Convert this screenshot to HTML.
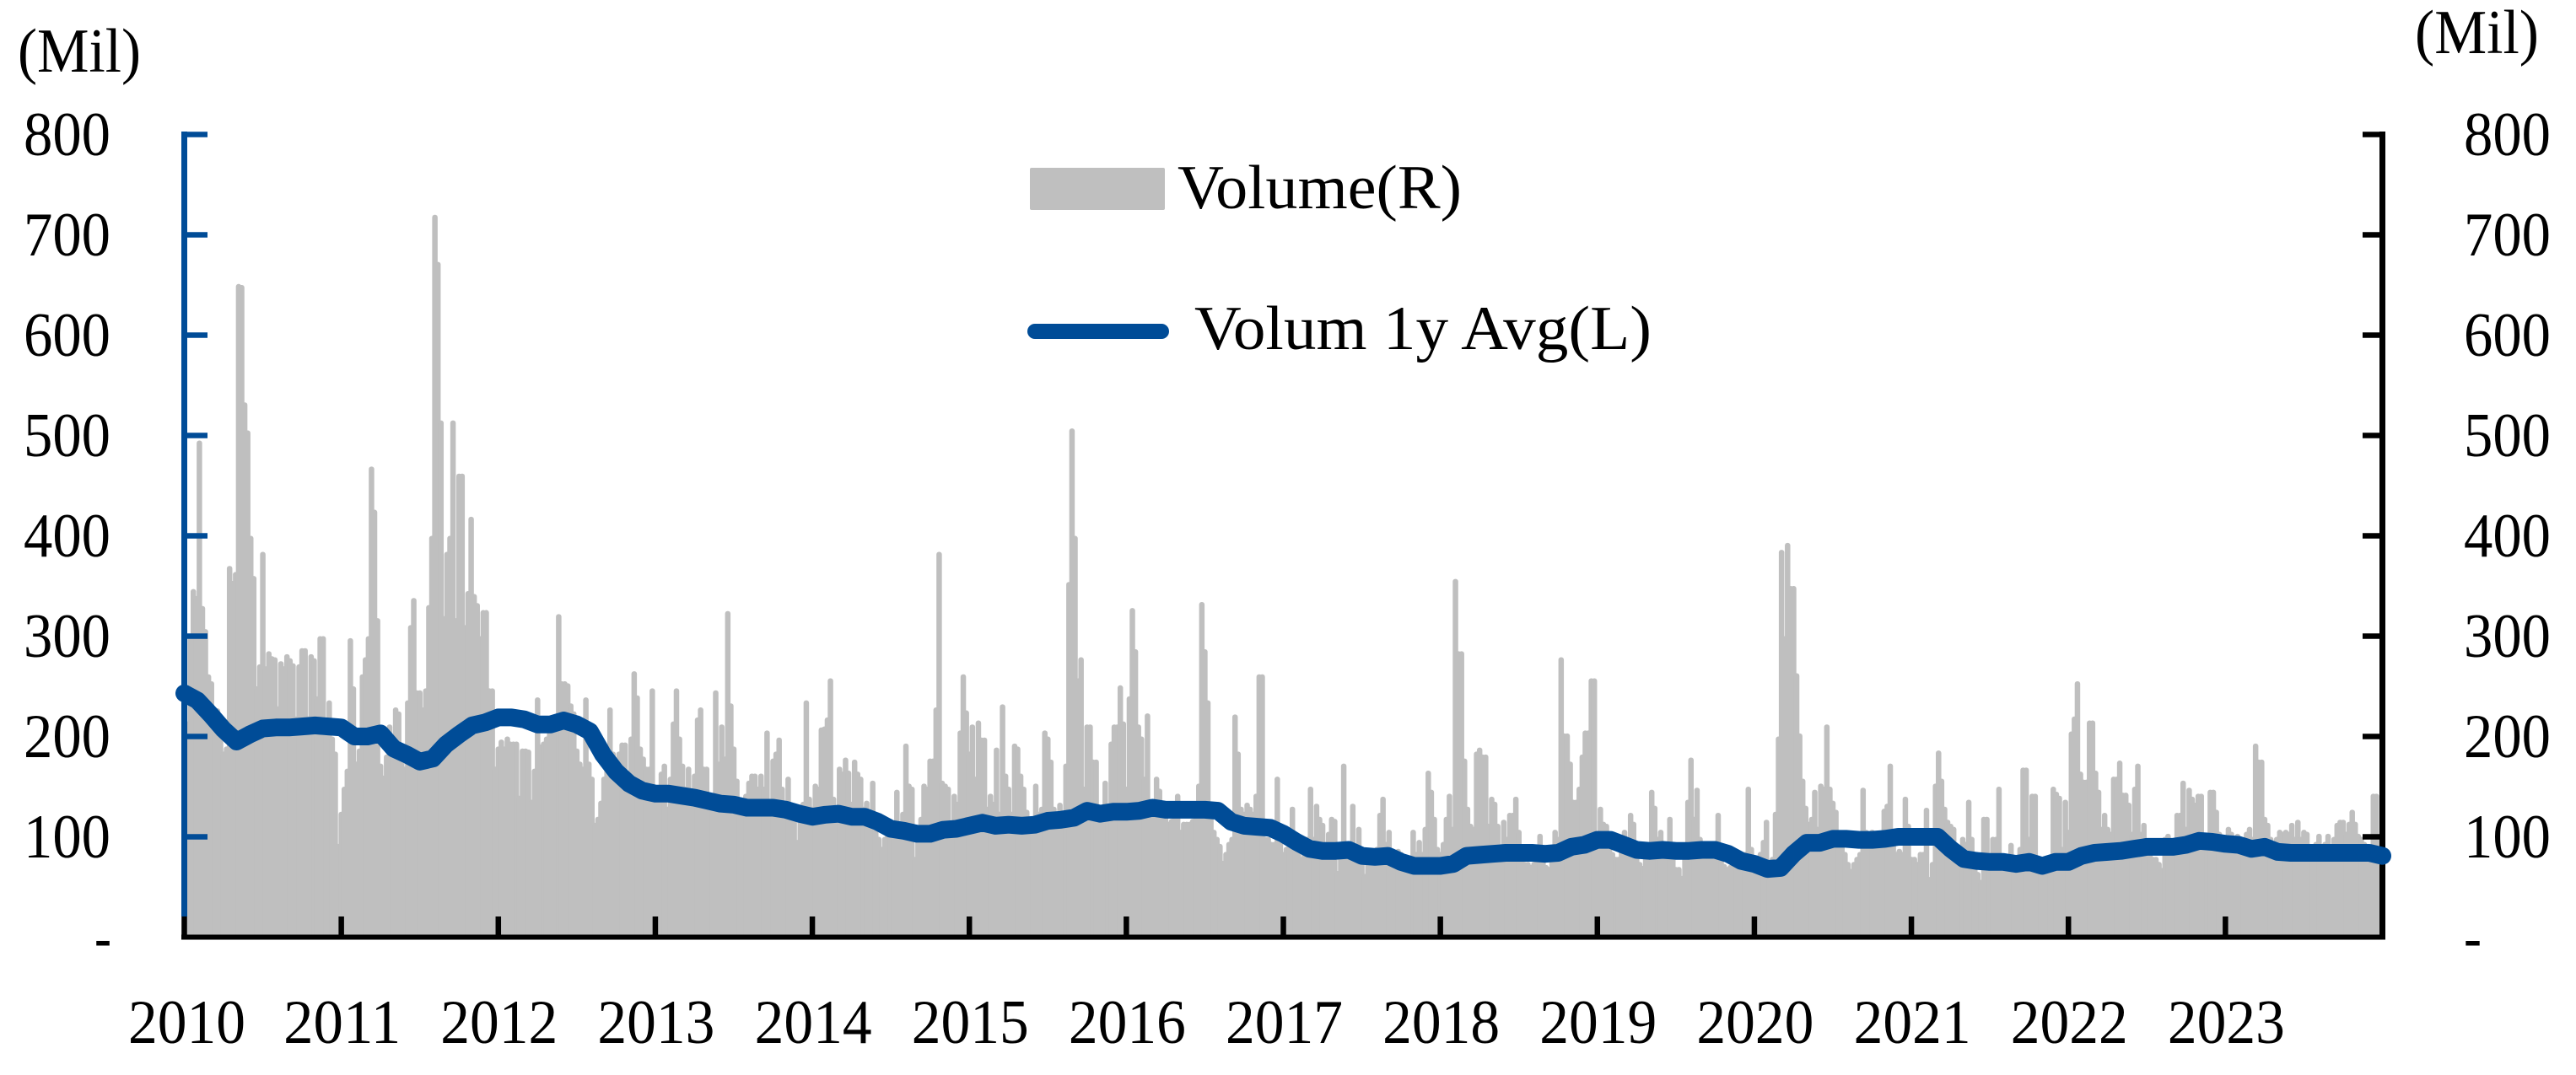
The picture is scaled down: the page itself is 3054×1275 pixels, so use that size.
<!DOCTYPE html>
<html>
<head>
<meta charset="utf-8">
<title>Volume chart</title>
<style>
html,body{margin:0;padding:0;background:#fff;width:3054px;height:1275px;overflow:hidden}
svg{display:block}
text{font-family:"Liberation Serif",serif;font-size:74px;fill:#000}
</style>
</head>
<body>
<svg id="chart" xmlns="http://www.w3.org/2000/svg" width="3054" height="1275" viewBox="0 0 3054 1275">
  <rect x="0" y="0" width="3054" height="1275" fill="#fff"/>
  <g id="bars"></g>
  <g id="axes"></g>
  <path id="avg" fill="none" stroke="#004C97" stroke-width="21" stroke-linejoin="round" stroke-linecap="round"/>
  <g id="labels"></g>
  <text x="21" y="85" textLength="146" lengthAdjust="spacingAndGlyphs">(Mil)</text>
  <text x="2863" y="63" textLength="147" lengthAdjust="spacingAndGlyphs">(Mil)</text>
  <g>
    <rect x="1221" y="199" width="160" height="50" rx="2" fill="#BFBFBF"/>
    <text x="1396" y="247" textLength="337" lengthAdjust="spacingAndGlyphs">Volume(R)</text>
    <line x1="1227" y1="393" x2="1377" y2="393" stroke="#004C97" stroke-width="18" stroke-linecap="round"/>
    <text x="1416" y="414" textLength="542" lengthAdjust="spacingAndGlyphs">Volum 1y Avg(L)</text>
  </g>
</svg>
<script>
const yearLabels = ["2010","2011","2012","2013","2014","2015","2016","2017","2018","2019","2020","2021","2022","2023"];
const yTickValues = [0,100,200,300,400,500,600,700,800];
const yTickLabels = ["-","100","200","300","400","500","600","700","800"];
// Weekly volume (right axis, millions), 52 readings per year
const volume = [
/*2010*/ 210,215,300,347,340,495,330,307,262,255,225,228,215,185,190,370,355,364,651,650,533,505,400,360,250,272,384,270,285,280,279,230,275,270,282,278,273,220,272,288,288,220,282,278,240,300,300,215,236,200,185,93,
/*2011*/ 125,150,168,298,250,175,188,262,279,300,469,426,318,173,161,182,212,182,229,225,180,170,236,311,338,246,246,229,248,331,400,720,673,515,320,384,400,515,318,462,462,311,345,419,342,333,300,326,326,248,248,170,
/*2012*/ 190,197,190,200,195,195,195,141,188,188,187,137,168,239,192,195,200,205,212,210,322,255,255,253,233,225,188,175,170,239,175,160,114,120,136,160,170,229,185,175,185,194,194,160,200,265,241,190,180,170,170,248,
/*2013*/ 140,150,165,173,130,160,215,248,200,173,150,170,140,163,219,229,170,170,135,140,246,175,212,180,325,233,190,158,130,125,143,156,163,163,150,163,150,206,130,178,185,199,150,135,160,130,125,97,125,135,236,140,
/*2014*/ 130,153,150,209,210,219,258,140,125,170,165,179,166,135,177,165,160,130,136,120,156,118,100,90,100,105,105,110,147,110,125,193,153,150,80,110,120,153,150,178,178,229,384,156,153,150,110,143,135,206,262,226,
/*2015*/ 185,212,160,216,199,199,130,143,135,189,125,232,163,150,125,193,190,163,150,127,110,120,153,125,130,206,200,177,130,125,134,120,173,354,507,400,258,279,150,212,212,177,177,125,125,156,120,195,212,212,251,215,
/*2016*/ 150,240,328,287,212,200,160,223,130,135,160,148,120,120,115,118,120,143,107,115,115,115,118,120,153,334,287,236,120,107,100,93,76,85,95,100,222,185,130,125,134,130,125,143,262,262,100,100,95,95,160,100,
/*2017*/ 85,90,95,130,100,85,80,85,100,150,100,133,120,114,95,105,120,118,66,95,173,95,85,133,90,110,80,63,75,80,85,90,124,140,95,107,85,85,88,85,75,75,80,107,85,97,85,110,166,147,120,90,
/*2018*/ 85,95,120,143,110,357,285,285,178,130,113,110,185,189,182,182,113,140,135,113,85,117,100,124,124,140,107,80,75,75,72,75,85,103,80,72,70,85,107,100,279,203,203,175,137,137,150,182,206,206,258,258,
/*2019*/ 95,130,115,113,95,85,80,80,90,107,85,124,115,90,75,71,80,90,147,131,100,107,80,85,120,85,70,70,61,80,137,179,120,149,100,85,85,80,80,85,124,85,73,70,72,75,78,80,70,85,150,90,
/*2020*/ 75,80,85,97,117,75,80,125,200,386,300,393,350,350,263,203,158,131,115,120,147,110,153,150,212,150,136,127,100,95,85,75,68,75,80,85,149,107,100,107,90,90,90,128,133,173,100,85,88,85,140,113,
/*2021*/ 80,80,75,85,85,129,60,75,153,186,158,130,117,113,110,90,85,100,95,137,100,70,65,57,120,120,75,100,100,150,75,70,68,94,70,68,90,169,169,100,143,143,70,70,70,70,75,150,145,141,90,137,
/*2022*/ 107,205,220,255,165,157,157,216,216,166,147,110,124,110,105,160,160,176,144,144,134,105,150,173,105,114,95,85,80,80,75,69,100,103,85,90,124,124,156,110,149,140,134,143,143,100,100,147,147,127,105,100,
/*2023*/ 100,110,105,100,103,95,90,105,110,100,193,177,177,120,114,100,95,100,107,105,107,105,114,100,117,100,107,105,93,90,95,103,90,95,103,90,100,114,117,117,105,115,127,115,103,100,95,93,90,143,143,100
];
// Monthly 1-year average volume (left axis, millions), 12 readings per year plus the closing reading
const avgVolume = [
/*2010*/ 243,236,222,207,195,202,208,209,209,210,211,210,
/*2011*/ 209,200,200,203,188,182,175,178,192,202,211,214,
/*2012*/ 219,219,217,212,212,216,212,205,182,165,153,146,
/*2013*/ 143,143,141,139,136,133,132,129,129,129,127,123,
/*2014*/ 120,122,123,120,120,115,108,106,103,103,107,108,
/*2015*/ 111,114,111,112,111,112,116,117,119,126,123,125,
/*2016*/ 125,126,129,127,127,127,127,126,115,111,110,109,
/*2017*/ 103,95,88,86,86,87,81,80,81,75,71,71,
/*2018*/ 71,73,81,82,83,84,84,84,83,84,90,92,
/*2019*/ 97,97,92,87,86,87,86,86,87,87,83,76,
/*2020*/ 73,68,69,83,94,94,98,98,97,97,98,100,
/*2021*/ 100,100,100,88,78,76,75,75,73,75,71,75,
/*2022*/ 75,81,84,85,86,88,90,90,90,92,96,95,
/*2023*/ 93,92,88,90,85,84,84,84,84,84,84,84,81
];

const NS = "http://www.w3.org/2000/svg";
const plotLeft = 218.5, plotRight = 2824.5, plotTop = 159.5, plotBottom = 1111.5, yMax = 800;
const xForYear = function (t) { return plotLeft + t * (plotRight - plotLeft) / yearLabels.length; };
const yForValue = function (v) { return plotBottom - v * (plotBottom - plotTop) / yMax; };

function make(tag, attrs, parent) {
  const el = document.createElementNS(NS, tag);
  for (const k in attrs) el.setAttribute(k, attrs[k]);
  parent.appendChild(el);
  return el;
}

const barsGroup = document.getElementById("bars");
const axesGroup = document.getElementById("axes");
const labelsGroup = document.getElementById("labels");
const weeksPerYear = volume.length / yearLabels.length;

volume.forEach(function (v, i) {
  const cx = xForYear(i / weeksPerYear);
  const top = yForValue(v);
  const bar = make("rect", { x: cx - 3.25, y: top, width: 6.5, height: plotBottom - top, rx: 3, fill: "#BFBFBF" }, barsGroup);
  
  
});

// Axis lines
const leftAxis = make("line", { x1: plotLeft, y1: 156, x2: plotLeft, y2: 1087, stroke: "#004C97", "stroke-width": 7 }, axesGroup);


const rightAxis = make("line", { x1: plotRight, y1: 156, x2: plotRight, y2: 1114.5, stroke: "#000", "stroke-width": 7 }, axesGroup);


const xAxis = make("line", { x1: 215, y1: plotBottom, x2: 2828, y2: plotBottom, stroke: "#000", "stroke-width": 6 }, axesGroup);



// Y ticks and labels
yTickValues.forEach(function (v, i) {
  const y = yForValue(v);
  if (v > 0) {
    const lt = make("line", { x1: plotLeft, y1: y, x2: 246, y2: y, stroke: "#004C97", "stroke-width": 6.5 }, axesGroup);
    
    
    const rt = make("line", { x1: 2801, y1: y, x2: plotRight, y2: y, stroke: "#000", "stroke-width": 6.5 }, axesGroup);
    
    
  }
  const isZero = v === 0;
  const ll = make("text", {
    x: isZero ? 112 : 28, y: y + 24.5,
    textLength: isZero ? 20 : 103, lengthAdjust: "spacingAndGlyphs"
  }, labelsGroup);
  ll.textContent = yTickLabels[i];
  
  
  const rl = make("text", {
    x: 2921, y: y + 24.5,
    textLength: isZero ? 21 : 103, lengthAdjust: "spacingAndGlyphs"
  }, labelsGroup);
  rl.textContent = yTickLabels[i];
  
  
});

// X ticks and labels
yearLabels.forEach(function (label, i) {
  const x = xForYear(i);
  const tick = make("line", { x1: x, y1: 1087, x2: x, y2: plotBottom, stroke: "#000", "stroke-width": 6.5 }, axesGroup);
  
  
  const t = make("text", { x: x - 69.5 + (i === 0 ? 3 : 1), y: 1237, textLength: 139, lengthAdjust: "spacingAndGlyphs" }, labelsGroup);
  t.textContent = label;
  
  
});

// Average line
let d = "";
avgVolume.forEach(function (v, i) {
  const x = Math.min(xForYear(i / 12), plotRight);
  d += (i === 0 ? "M" : "L") + x.toFixed(1) + " " + yForValue(v).toFixed(1);
});
document.getElementById("avg").setAttribute("d", d);
</script>
</body>
</html>
